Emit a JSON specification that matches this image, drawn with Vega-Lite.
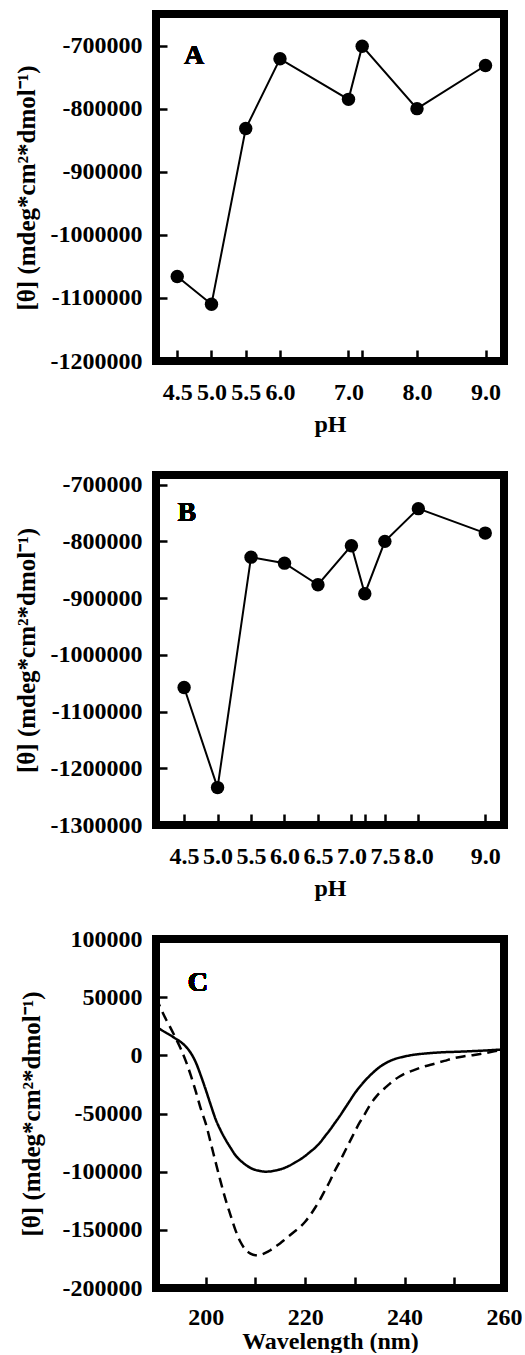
{
  "$schema": "https://vega.github.io/schema/vega-lite/v6.json",
  "background": "white",
  "padding": {"left": 14, "top": 10, "right": 0, "bottom": 0},
  "autosize": {"type": "pad"},
  "spacing": 114,
  "bounds": "flush",
  "datasets": {
    "phA": [
      {"pH": 4.5, "theta": -1066000},
      {"pH": 5.0, "theta": -1110000},
      {"pH": 5.5, "theta": -831600},
      {"pH": 6.0, "theta": -721000},
      {"pH": 7.0, "theta": -785300},
      {"pH": 7.2, "theta": -701000},
      {"pH": 8.0, "theta": -800000},
      {"pH": 9.0, "theta": -731600}
    ],
    "phB": [
      {"pH": 4.5, "theta": -1057600},
      {"pH": 5.0, "theta": -1234100},
      {"pH": 5.5, "theta": -827800},
      {"pH": 6.0, "theta": -838400},
      {"pH": 6.5, "theta": -876500},
      {"pH": 7.0, "theta": -807600},
      {"pH": 7.2, "theta": -892300},
      {"pH": 7.5, "theta": -800000},
      {"pH": 8.0, "theta": -742300},
      {"pH": 9.0, "theta": -785400}
    ],
    "cd": [
      {"wl": 190, "theta": 25000, "s": "solid"},
      {"wl": 191, "theta": 22000, "s": "solid"},
      {"wl": 192, "theta": 19500, "s": "solid"},
      {"wl": 193, "theta": 17000, "s": "solid"},
      {"wl": 194, "theta": 14200, "s": "solid"},
      {"wl": 195, "theta": 11400, "s": "solid"},
      {"wl": 196, "theta": 7500, "s": "solid"},
      {"wl": 197, "theta": 2000, "s": "solid"},
      {"wl": 198, "theta": -6000, "s": "solid"},
      {"wl": 199, "theta": -17200, "s": "solid"},
      {"wl": 200, "theta": -29500, "s": "solid"},
      {"wl": 201, "theta": -42500, "s": "solid"},
      {"wl": 202, "theta": -55000, "s": "solid"},
      {"wl": 203, "theta": -64500, "s": "solid"},
      {"wl": 204, "theta": -72500, "s": "solid"},
      {"wl": 205, "theta": -79500, "s": "solid"},
      {"wl": 206, "theta": -86000, "s": "solid"},
      {"wl": 207, "theta": -90500, "s": "solid"},
      {"wl": 208, "theta": -94000, "s": "solid"},
      {"wl": 209, "theta": -96800, "s": "solid"},
      {"wl": 210, "theta": -98500, "s": "solid"},
      {"wl": 211, "theta": -99500, "s": "solid"},
      {"wl": 212, "theta": -100000, "s": "solid"},
      {"wl": 213, "theta": -99800, "s": "solid"},
      {"wl": 214, "theta": -99000, "s": "solid"},
      {"wl": 215, "theta": -98000, "s": "solid"},
      {"wl": 216, "theta": -96500, "s": "solid"},
      {"wl": 217, "theta": -94500, "s": "solid"},
      {"wl": 218, "theta": -92000, "s": "solid"},
      {"wl": 219, "theta": -89500, "s": "solid"},
      {"wl": 220, "theta": -86500, "s": "solid"},
      {"wl": 221, "theta": -83000, "s": "solid"},
      {"wl": 222, "theta": -79500, "s": "solid"},
      {"wl": 223, "theta": -75000, "s": "solid"},
      {"wl": 224, "theta": -69500, "s": "solid"},
      {"wl": 225, "theta": -64000, "s": "solid"},
      {"wl": 226, "theta": -58000, "s": "solid"},
      {"wl": 227, "theta": -52000, "s": "solid"},
      {"wl": 228, "theta": -45500, "s": "solid"},
      {"wl": 229, "theta": -39000, "s": "solid"},
      {"wl": 230, "theta": -32500, "s": "solid"},
      {"wl": 231, "theta": -27000, "s": "solid"},
      {"wl": 232, "theta": -22000, "s": "solid"},
      {"wl": 233, "theta": -17500, "s": "solid"},
      {"wl": 234, "theta": -13500, "s": "solid"},
      {"wl": 235, "theta": -10000, "s": "solid"},
      {"wl": 236, "theta": -7200, "s": "solid"},
      {"wl": 237, "theta": -5000, "s": "solid"},
      {"wl": 238, "theta": -3200, "s": "solid"},
      {"wl": 239, "theta": -2000, "s": "solid"},
      {"wl": 240, "theta": -1000, "s": "solid"},
      {"wl": 242, "theta": 600, "s": "solid"},
      {"wl": 244, "theta": 1500, "s": "solid"},
      {"wl": 246, "theta": 2200, "s": "solid"},
      {"wl": 248, "theta": 2700, "s": "solid"},
      {"wl": 250, "theta": 3000, "s": "solid"},
      {"wl": 252, "theta": 3300, "s": "solid"},
      {"wl": 254, "theta": 3700, "s": "solid"},
      {"wl": 256, "theta": 4100, "s": "solid"},
      {"wl": 258, "theta": 4600, "s": "solid"},
      {"wl": 260, "theta": 5100, "s": "solid"},
      {"wl": 190, "theta": 50000, "s": "dashed"},
      {"wl": 191, "theta": 40000, "s": "dashed"},
      {"wl": 192, "theta": 31000, "s": "dashed"},
      {"wl": 193, "theta": 23000, "s": "dashed"},
      {"wl": 194, "theta": 14500, "s": "dashed"},
      {"wl": 195, "theta": 5500, "s": "dashed"},
      {"wl": 196, "theta": -5000, "s": "dashed"},
      {"wl": 197, "theta": -17200, "s": "dashed"},
      {"wl": 198, "theta": -31000, "s": "dashed"},
      {"wl": 199, "theta": -45800, "s": "dashed"},
      {"wl": 200, "theta": -58500, "s": "dashed"},
      {"wl": 201, "theta": -75000, "s": "dashed"},
      {"wl": 202, "theta": -92000, "s": "dashed"},
      {"wl": 203, "theta": -108500, "s": "dashed"},
      {"wl": 204, "theta": -124000, "s": "dashed"},
      {"wl": 205, "theta": -137500, "s": "dashed"},
      {"wl": 206, "theta": -150500, "s": "dashed"},
      {"wl": 207, "theta": -160500, "s": "dashed"},
      {"wl": 208, "theta": -167000, "s": "dashed"},
      {"wl": 209, "theta": -170500, "s": "dashed"},
      {"wl": 210, "theta": -171800, "s": "dashed"},
      {"wl": 211, "theta": -171500, "s": "dashed"},
      {"wl": 212, "theta": -169800, "s": "dashed"},
      {"wl": 213, "theta": -167500, "s": "dashed"},
      {"wl": 214, "theta": -164500, "s": "dashed"},
      {"wl": 215, "theta": -161500, "s": "dashed"},
      {"wl": 216, "theta": -158000, "s": "dashed"},
      {"wl": 217, "theta": -154500, "s": "dashed"},
      {"wl": 218, "theta": -151000, "s": "dashed"},
      {"wl": 219, "theta": -147500, "s": "dashed"},
      {"wl": 220, "theta": -143000, "s": "dashed"},
      {"wl": 221, "theta": -137500, "s": "dashed"},
      {"wl": 222, "theta": -131000, "s": "dashed"},
      {"wl": 223, "theta": -124000, "s": "dashed"},
      {"wl": 224, "theta": -116000, "s": "dashed"},
      {"wl": 225, "theta": -108000, "s": "dashed"},
      {"wl": 226, "theta": -99000, "s": "dashed"},
      {"wl": 227, "theta": -91000, "s": "dashed"},
      {"wl": 228, "theta": -82500, "s": "dashed"},
      {"wl": 229, "theta": -74000, "s": "dashed"},
      {"wl": 230, "theta": -65500, "s": "dashed"},
      {"wl": 231, "theta": -57500, "s": "dashed"},
      {"wl": 232, "theta": -50500, "s": "dashed"},
      {"wl": 233, "theta": -43000, "s": "dashed"},
      {"wl": 234, "theta": -37000, "s": "dashed"},
      {"wl": 235, "theta": -32000, "s": "dashed"},
      {"wl": 236, "theta": -28300, "s": "dashed"},
      {"wl": 237, "theta": -24500, "s": "dashed"},
      {"wl": 238, "theta": -21000, "s": "dashed"},
      {"wl": 239, "theta": -18200, "s": "dashed"},
      {"wl": 240, "theta": -15800, "s": "dashed"},
      {"wl": 242, "theta": -12500, "s": "dashed"},
      {"wl": 244, "theta": -9500, "s": "dashed"},
      {"wl": 246, "theta": -7200, "s": "dashed"},
      {"wl": 248, "theta": -4800, "s": "dashed"},
      {"wl": 250, "theta": -2300, "s": "dashed"},
      {"wl": 252, "theta": -800, "s": "dashed"},
      {"wl": 254, "theta": 300, "s": "dashed"},
      {"wl": 256, "theta": 1800, "s": "dashed"},
      {"wl": 258, "theta": 3400, "s": "dashed"},
      {"wl": 260, "theta": 5100, "s": "dashed"}
    ]
  },
  "config": {
    "font": "Liberation Serif",
    "view": {"stroke": null},
    "axis": {
      "domain": false,
      "grid": false,
      "ticks": true,
      "tickColor": "black",
      "tickWidth": 2.5,
      "tickSize": -11,
      "zindex": 2,
      "labelFont": "Liberation Serif",
      "labelFontSize": 24,
      "labelFontWeight": "bold",
      "labelColor": "black",
      "titleFont": "Liberation Serif",
      "titleFontSize": 25,
      "titleFontWeight": "bold",
      "titleColor": "black",
      "labelOverlap": false,
      "labelFlush": false
    },
    "axisX": {"labelPadding": 30, "titlePadding": 8, "titleFontSize": 24},
    "axisY": {"labelPadding": 25, "titlePadding": 11}
  },
  "vconcat": [
    {
      "width": 348,
      "height": 347,
      "data": {"name": "phA"},
      "encoding": {
        "x": {"field": "pH", "type": "quantitative",
          "scale": {"domain": [4.19, 9.27], "nice": false, "zero": false},
          "axis": {"values": [4.5, 5, 5.5, 6, 7, 7.2, 8, 9], "labelExpr": "datum.value == 7.2 ? '' : format(datum.value, '.1f')", "title": "pH"}},
        "y": {"field": "theta", "type": "quantitative",
          "scale": {"domain": [-1200000, -650000], "nice": false, "zero": false},
          "axis": {"values": [-1200000, -1100000, -1000000, -900000, -800000, -700000], "labelExpr": "toString(datum.value)", "title": "[θ] (mdeg*cm²*dmol⁻¹)"}}
      },
      "layer": [
        {"mark": {"type": "rect", "fillOpacity": 0, "stroke": "black", "strokeWidth": 8},
          "encoding": {"x": {"datum": 4.19}, "x2": {"datum": 9.27}, "y": {"datum": -1200000}, "y2": {"datum": -650000}}},
        {"mark": {"type": "line", "color": "black", "strokeWidth": 2}},
        {"mark": {"type": "point", "filled": true, "color": "black", "opacity": 1, "size": 180}},
        {"mark": {"type": "text", "text": "A", "font": "Liberation Serif", "fontSize": 28, "fontWeight": "bold", "align": "left", "baseline": "middle", "color": "black"},
          "encoding": {"x": {"datum": 4.6}, "y": {"datum": -716000}}}
      ]
    },
    {
      "width": 348,
      "height": 350,
      "data": {"name": "phB"},
      "encoding": {
        "x": {"field": "pH", "type": "quantitative",
          "scale": {"domain": [4.08, 9.28], "nice": false, "zero": false},
          "axis": {"values": [4.5, 5, 5.5, 6, 6.5, 7, 7.2, 7.5, 8, 9], "labelExpr": "datum.value == 7.2 ? '' : format(datum.value, '.1f')", "title": "pH"}},
        "y": {"field": "theta", "type": "quantitative",
          "scale": {"domain": [-1300000, -683000], "nice": false, "zero": false},
          "axis": {"values": [-1300000, -1200000, -1100000, -1000000, -900000, -800000, -700000], "labelExpr": "toString(datum.value)", "title": "[θ] (mdeg*cm²*dmol⁻¹)"}}
      },
      "layer": [
        {"mark": {"type": "rect", "fillOpacity": 0, "stroke": "black", "strokeWidth": 8},
          "encoding": {"x": {"datum": 4.08}, "x2": {"datum": 9.28}, "y": {"datum": -1300000}, "y2": {"datum": -683000}}},
        {"mark": {"type": "line", "color": "black", "strokeWidth": 2}},
        {"mark": {"type": "point", "filled": true, "color": "black", "opacity": 1, "size": 180}},
        {"mark": {"type": "text", "text": "B", "font": "Liberation Serif", "fontSize": 28, "fontWeight": "bold", "align": "left", "baseline": "middle", "color": "black"},
          "encoding": {"x": {"datum": 4.4}, "y": {"datum": -750000}}}
      ]
    },
    {
      "width": 348,
      "height": 349,
      "data": {"name": "cd"},
      "encoding": {
        "x": {"field": "wl", "type": "quantitative",
          "scale": {"domain": [190, 260], "nice": false, "zero": false},
          "axis": {"values": [200, 210, 220, 230, 240, 250, 260], "labelExpr": "datum.value % 20 == 0 ? toString(datum.value) : ''", "title": "Wavelength (nm)", "titlePadding": 0, "titleFontSize": 24, "labelPadding": 28}},
        "y": {"field": "theta", "type": "quantitative",
          "scale": {"domain": [-200000, 100000], "nice": false, "zero": false},
          "axis": {"values": [-200000, -150000, -100000, -50000, 0, 50000, 100000], "labelExpr": "toString(datum.value)", "title": "[θ] (mdeg*cm²*dmol⁻¹)", "titlePadding": 18}}
      },
      "layer": [
        {"mark": {"type": "rect", "fillOpacity": 0, "stroke": "black", "strokeWidth": 8},
          "encoding": {"x": {"datum": 190}, "x2": {"datum": 260}, "y": {"datum": -200000}, "y2": {"datum": 100000}}},
        {"mark": {"type": "line", "color": "black", "strokeWidth": 2.5, "interpolate": "monotone"},
          "encoding": {
            "strokeDash": {"field": "s", "type": "nominal", "scale": {"domain": ["solid", "dashed"], "range": [[1, 0], [10, 6]]}, "legend": null}
          }},
        {"mark": {"type": "text", "text": "C", "font": "Liberation Serif", "fontSize": 28, "fontWeight": "bold", "align": "left", "baseline": "middle", "color": "black"},
          "encoding": {"x": {"datum": 196.4}, "y": {"datum": 62000}}}
      ]
    }
  ]
}
